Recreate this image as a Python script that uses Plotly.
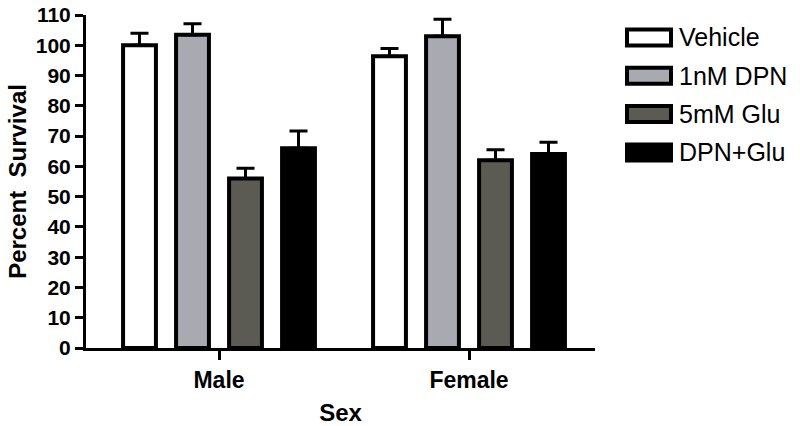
import plotly.graph_objects as go

categories = ["Male", "Female"]
series_names = ["Vehicle", "1nM DPN", "5mM Glu", "DPN+Glu"]
vehicle = [100.0, 96.4]
dpn = [103.5, 103.0]
glu = [56.0, 62.0]
dpn_glu = [66.0, 64.1]
vehicle_err = [4.0, 2.5]
dpn_err = [3.6, 5.6]
glu_err = [3.4, 3.5]
dpn_glu_err = [5.7, 3.9]
y_ticks = list(range(0, 111, 10))

values = [vehicle, dpn, glu, dpn_glu]
errors = [vehicle_err, dpn_err, glu_err, dpn_glu_err]
colors = ["#ffffff", "#a9a9b1", "#5b5b53", "#000000"]

FONT = "Arial, Liberation Sans, sans-serif"

fig = go.Figure()
for name, vals, errs, col in zip(series_names, values, errors, colors):
    fig.add_trace(go.Bar(
        x=categories, y=vals, name=name,
        marker=dict(color=col, line=dict(color="black", width=4)),
        error_y=dict(type="data", array=errs, arrayminus=[0] * len(errs),
                     symmetric=False, color="black", thickness=3, width=9),
        showlegend=False,
    ))

# custom legend with large swatches (paper coords relative to the plot area)
leg_y0 = 37.5
leg_dy = 38.3
for i, (name, col) in enumerate(zip(series_names, colors)):
    yc = leg_y0 + i * leg_dy
    fig.add_shape(type="rect", xref="paper", yref="paper",
                  x0=(627 - 86) / 509, x1=(671 - 86) / 509,
                  y0=(348 - (yc + 8)) / 333, y1=(348 - (yc - 8)) / 333,
                  fillcolor=col, line=dict(color="black", width=4))
    fig.add_annotation(text=name, xref="paper", yref="paper",
                       x=(677 - 86) / 509, y=(348 - yc) / 333,
                       xanchor="left", yanchor="middle", showarrow=False,
                       font=dict(family=FONT, size=25, color="black"))

fig.update_layout(
    width=800, height=426,
    margin=dict(l=86, r=205, t=15, b=78, autoexpand=False),
    paper_bgcolor="white", plot_bgcolor="white",
    barmode="group", bargap=0.152, bargroupgap=0.38,
    font=dict(family=FONT, color="black"),
    xaxis=dict(
        range=[-0.532, 1.504], showline=True, linewidth=3, linecolor="black",
        ticks="outside", ticklen=9, tickwidth=3, tickcolor="black",
        tickfont=dict(family=FONT, size=23, weight="bold"),
        title=dict(text="Sex", font=dict(family=FONT, size=24, weight="bold"), standoff=21),
        showgrid=False, zeroline=False, automargin=False,
    ),
    yaxis=dict(
        range=[0, 110], tickvals=y_ticks, showline=True, linewidth=3, linecolor="black",
        ticks="outside", ticklen=8, tickwidth=3, tickcolor="black",
        tickfont=dict(family=FONT, size=21, weight="bold"),
        ticklabeloverflow="allow",
        title=dict(text="Percent  Survival", font=dict(family=FONT, size=24, weight="bold"), standoff=3),
        showgrid=False, zeroline=False, automargin=False,
    ),
)

fig.write_html("out.html", config={"displayModeBar": False},
               post_script="document.body.style.margin='0';")
